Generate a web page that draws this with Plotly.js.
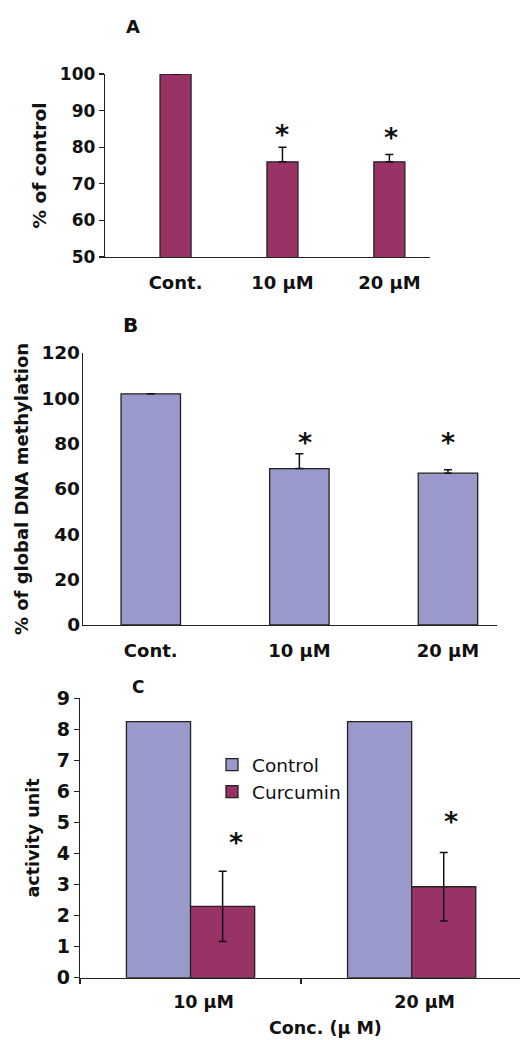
<!DOCTYPE html>
<html>
<head>
<meta charset="utf-8">
<script src="https://cdn.plot.ly/plotly-3.0.1.min.js"></script>
<style>html,body{margin:0;padding:0;background:#fff;}#chart{width:520px;height:1040px;}</style>
</head>
<body>
<div id="chart"></div>
<script>
// ---- data ----
const catsA = ['Cont.', '10 µM', '20 µM'];
const valsA = [100, 76, 76];
const errA = [null, 4, 2];

const catsB = ['Cont.', '10 µM', '20 µM'];
const valsB = [102, 69, 67];
const errB = [null, 6.5, 1.5];

const catsC = ['10 µM', '20 µM'];
const controlC = [8.25, 8.25];
const curcuminC = [2.3, 2.93];
const errCurcuminC = [1.13, 1.1];

const yTicksA = [50, 60, 70, 80, 90, 100];
const yTicksB = [0, 20, 40, 60, 80, 100, 120];
const yTicksC = [0, 1, 2, 3, 4, 5, 6, 7, 8, 9];

// ---- styles ----
const PLUM = '#993366';
const PERI = '#9999CC';
const EDGE = '#222222';
const FB = 'DejaVu Sans';

function upOnly(arr) {
  return {type: 'data', array: arr, arrayminus: arr.map(v => v == null ? null : 0),
          symmetric: false, color: '#111', thickness: 1.5, width: 4};
}

const traces = [
  {type: 'bar', x: catsA, y: valsA, xaxis: 'x', yaxis: 'y', width: 0.29,
   marker: {color: PLUM, line: {color: EDGE, width: 1.3}}, error_y: upOnly(errA),
   showlegend: false, hoverinfo: 'x+y'},
  {type: 'bar', x: catsB, y: valsB, xaxis: 'x2', yaxis: 'y2', width: 0.40,
   marker: {color: PERI, line: {color: EDGE, width: 1.3}}, error_y: upOnly(errB),
   showlegend: false, hoverinfo: 'x+y'},
  {type: 'bar', name: 'Control', x: catsC, y: controlC, xaxis: 'x3', yaxis: 'y3',
   marker: {color: PERI, line: {color: EDGE, width: 1.3}}},
  {type: 'bar', name: 'Curcumin', x: catsC, y: curcuminC, xaxis: 'x3', yaxis: 'y3',
   marker: {color: PLUM, line: {color: EDGE, width: 1.3}},
   error_y: {type: 'data', array: errCurcuminC, symmetric: true, color: '#111', thickness: 1.5, width: 4}}
];

function px2x(p) { return p / 520; }
function px2y(p) { return 1 - p / 1040; }

const boldFont = (s) => ({family: FB, size: s, color: '#111', weight: 'bold'});

const baseX = {showgrid: false, zeroline: false, showline: true, linecolor: '#222', linewidth: 1.3,
               type: 'category', fixedrange: true};
const baseY = {showgrid: false, zeroline: false, showline: true, linecolor: '#222', linewidth: 1.3,
               fixedrange: true};

// significance asterisks placed above error bar tops
const stars = [];
function addStar(xref, yref, xval, top, yshift, xshift) {
  stars.push({xref: xref, yref: yref, x: xval, y: top, text: '*', showarrow: false,
              xanchor: 'center', yanchor: 'middle', yshift: yshift, xshift: xshift || 0,
              font: boldFont(27)});
}
addStar('x', 'y', 1, valsA[1] + errA[1], 13, 0);
addStar('x', 'y', 2, valsA[2] + errA[2], 17, 2);
addStar('x2', 'y2', 1, valsB[1] + errB[1], 11, 6);
addStar('x2', 'y2', 2, valsB[2] + errB[2], 27, 0);
addStar('x3', 'y3', 0, curcuminC[0] + errCurcuminC[0], 29, 45);
addStar('x3', 'y3', 1, curcuminC[1] + errCurcuminC[1], 31, 39);

const texts = [
  {text: 'A', x: px2x(133), y: px2y(26), size: 18},
  {text: 'B', x: px2x(130), y: px2y(325), size: 20},
  {text: 'C', x: px2x(138), y: px2y(687), size: 17},
  {text: 'Conc. (µ M)', x: px2x(325), y: px2y(1028), size: 17.5}
].map(p => ({xref: 'paper', yref: 'paper', x: p.x, y: p.y, text: p.text, showarrow: false,
             xanchor: 'center', yanchor: 'middle', font: boldFont(p.size)}));

const layout = {
  width: 520, height: 1040,
  margin: {l: 0, r: 0, t: 0, b: 0},
  paper_bgcolor: '#fff', plot_bgcolor: 'rgba(0,0,0,0)',
  barmode: 'group', bargap: 0.42, bargroupgap: 0,
  font: {family: FB, color: '#111'},
  showlegend: true,
  legend: {x: px2x(212), y: px2y(746), xanchor: 'left', yanchor: 'top', bgcolor: 'rgba(0,0,0,0)',
           font: {family: FB, size: 18.5, color: '#111'}, tracegroupgap: 0, itemwidth: 30},
  xaxis: Object.assign({}, baseX, {domain: [px2x(105), px2x(430)], range: [-0.66, 2.38], anchor: 'y',
           ticks: '', ticklabelstandoff: 9, tickfont: boldFont(18)}),
  yaxis: Object.assign({}, baseY, {domain: [px2y(257), px2y(74)], range: [50, 100], anchor: 'x',
           tickvals: yTicksA, ticks: 'outside', ticklen: 5, tickwidth: 1.3, tickcolor: '#222',
           tickfont: boldFont(17),
           title: {text: '% of control', standoff: 8, font: boldFont(18.5)}}),
  xaxis2: Object.assign({}, baseX, {domain: [px2x(83), px2x(497)], range: [-0.456, 2.33], anchor: 'y2',
           ticks: '', ticklabelstandoff: 9, tickfont: boldFont(18)}),
  yaxis2: Object.assign({}, baseY, {domain: [px2y(625), px2y(353)], range: [0, 120], anchor: 'x2',
           tickvals: yTicksB, ticks: '', ticklabelstandoff: -2, tickfont: boldFont(18.5),
           title: {text: '% of global DNA methylation', standoff: 8, font: boldFont(18)}}),
  xaxis3: Object.assign({}, baseX, {domain: [px2x(80), 1], range: [-0.5, 1.49], anchor: 'y3',
           ticks: 'outside', tickson: 'boundaries', ticklen: 5, tickwidth: 1.3, tickcolor: '#222',
           ticklabelshift: 13, ticklabelstandoff: 8, tickfont: boldFont(17.5)}),
  yaxis3: Object.assign({}, baseY, {domain: [px2y(977.7), px2y(698.3)], range: [0, 9], anchor: 'x3',
           tickvals: yTicksC, ticks: 'outside', ticklen: 5, tickwidth: 1.3, tickcolor: '#222',
           tickfont: boldFont(19),
           title: {text: 'activity unit', standoff: 12, font: boldFont(17.5)}}),
  annotations: texts.concat(stars)
};

Plotly.newPlot('chart', traces, layout, {staticPlot: true, displayModeBar: false});
</script>
</body>
</html>
